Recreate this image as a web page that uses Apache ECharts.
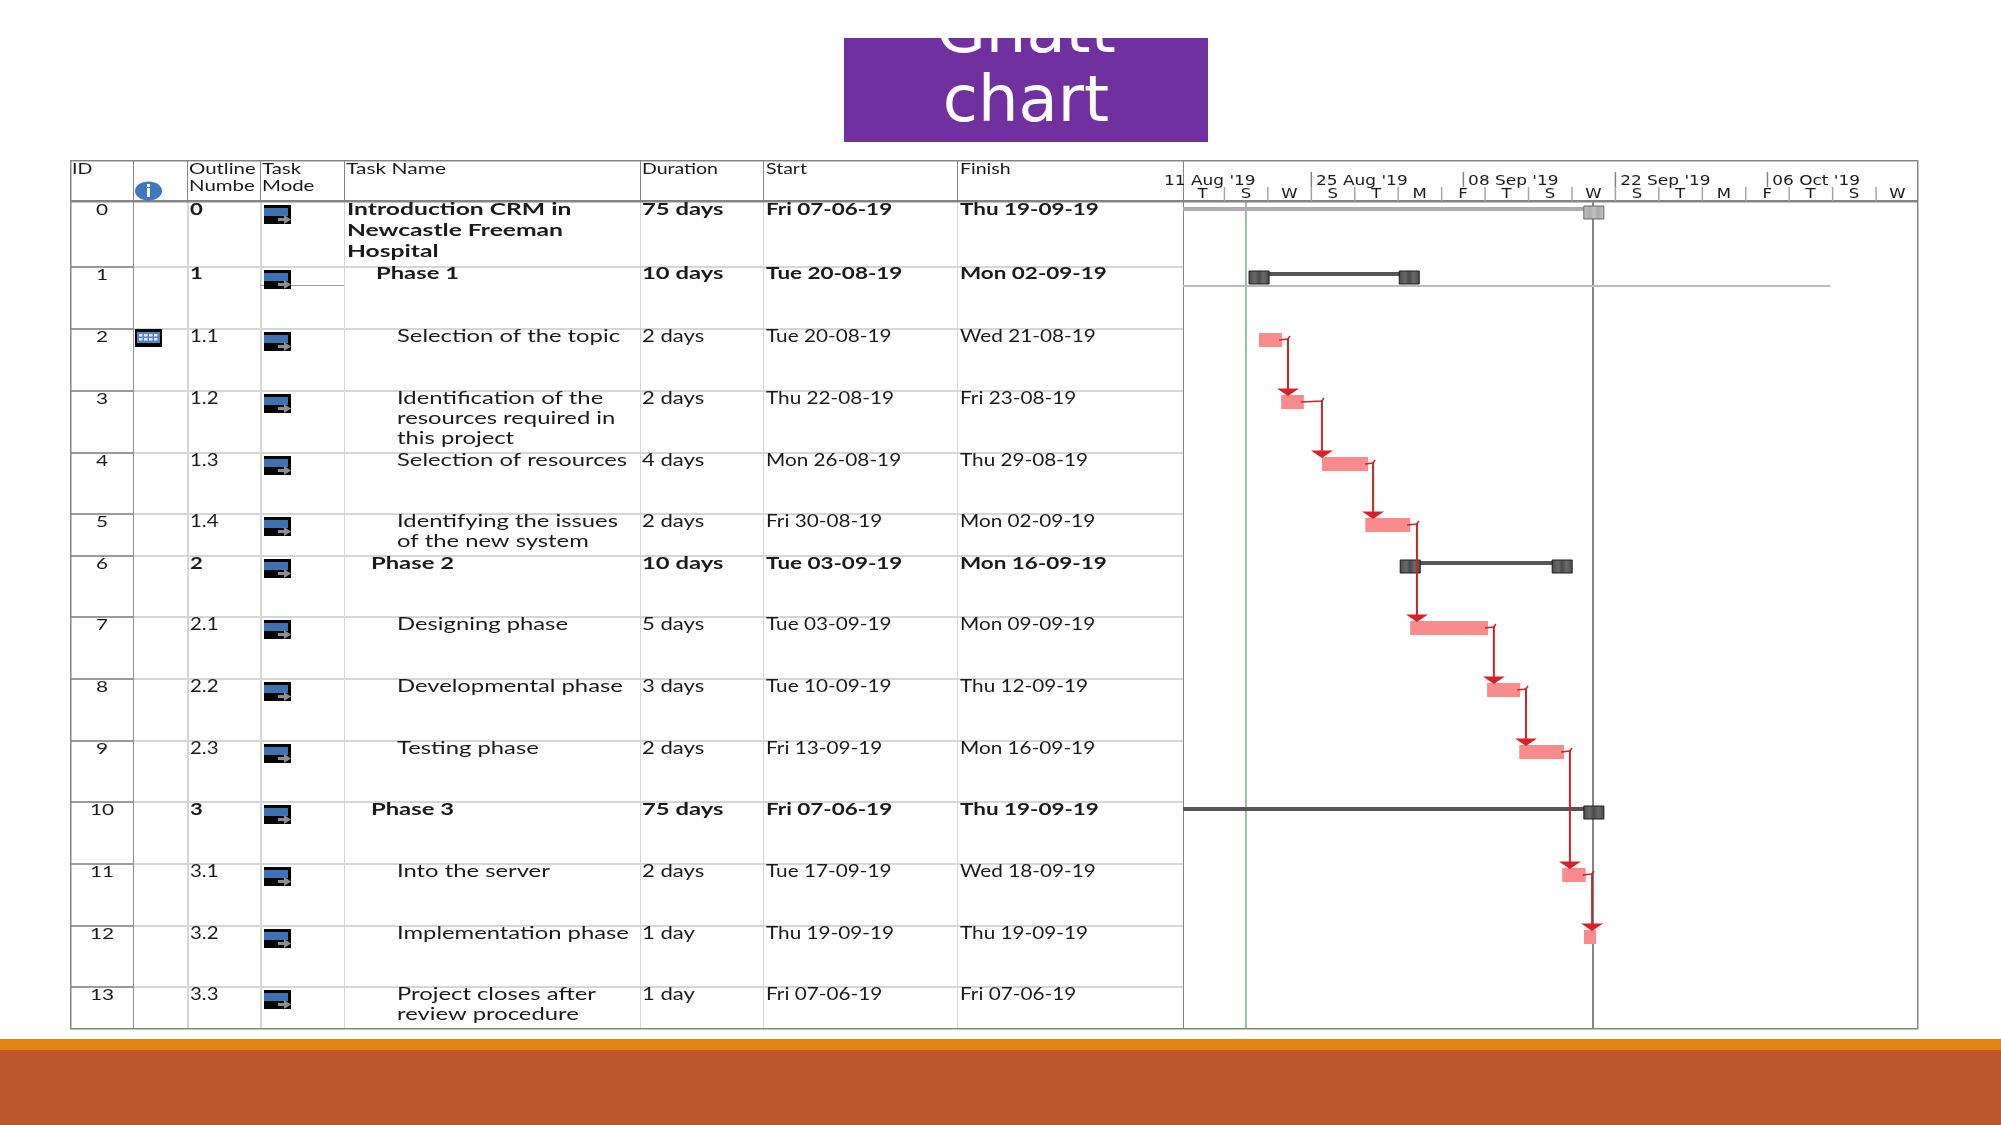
<!DOCTYPE html>
<html>
<head>
<meta charset="utf-8">
<title>Gnatt chart</title>
<script src="https://cdn.jsdelivr.net/npm/echarts@6/dist/echarts.min.js"></script>
<style>
  html, body { margin: 0; padding: 0; background: #fff; }
  #chart { width: 2001px; height: 1125px; }
</style>
</head>
<body>
<div id="chart"></div>
<script>
// table columns
const headers = ['ID', 'Outline\nNumbe', 'Task\nMode', 'Task Name', 'Duration', 'Start', 'Finish']
const ids = ['0', '1', '2', '3', '4', '5', '6', '7', '8', '9', '10', '11', '12', '13']
const outline = ['0', '1', '1.1', '1.2', '1.3', '1.4', '2', '2.1', '2.2', '2.3', '3', '3.1', '3.2', '3.3']
const taskNames = [
  'Introduction CRM in\nNewcastle Freeman\nHospital', 'Phase 1', 'Selection of the topic',
  'Identification of the\nresources required in\nthis project', 'Selection of resources',
  'Identifying the issues\nof the new system', 'Phase 2', 'Designing phase', 'Developmental phase',
  'Testing phase', 'Phase 3', 'Into the server', 'Implementation phase',
  'Project closes after\nreview procedure'
]
const durations = ['75 days', '10 days', '2 days', '2 days', '4 days', '2 days', '10 days', '5 days', '3 days', '2 days', '75 days', '2 days', '1 day', '1 day']
const startDates = ['Fri 07-06-19', 'Tue 20-08-19', 'Tue 20-08-19', 'Thu 22-08-19', 'Mon 26-08-19', 'Fri 30-08-19', 'Tue 03-09-19', 'Tue 03-09-19', 'Tue 10-09-19', 'Fri 13-09-19', 'Fri 07-06-19', 'Tue 17-09-19', 'Thu 19-09-19', 'Fri 07-06-19']
const finishDates = ['Thu 19-09-19', 'Mon 02-09-19', 'Wed 21-08-19', 'Fri 23-08-19', 'Thu 29-08-19', 'Mon 02-09-19', 'Mon 16-09-19', 'Mon 09-09-19', 'Thu 12-09-19', 'Mon 16-09-19', 'Thu 19-09-19', 'Wed 18-09-19', 'Thu 19-09-19', 'Fri 07-06-19']

// gantt bars, times
const taskRows = [2, 3, 4, 5, 7, 8, 9, 11, 12, 13]
const taskStart = ['2019-08-20 05:00', '2019-08-22 06:00', '2019-08-26 00:00', '2019-08-30 00:00', '2019-09-03 03:00', '2019-09-10 05:00', '2019-09-13 04:00', '2019-09-17 03:00', '2019-09-19 03:00', '2019-06-07 08:00']
const taskEnd = ['2019-08-22 08:00', '2019-08-24 08:00', '2019-08-30 06:00', '2019-09-03 03:00', '2019-09-10 07:00', '2019-09-13 06:00', '2019-09-17 07:00', '2019-09-19 07:00', '2019-09-20 06:00', '2019-06-07 17:00']
const summaryRows = [0, 1, 6, 10]
const summaryStart = ['2019-06-07 08:00', '2019-08-19 07:00', '2019-09-02 05:00', '2019-06-07 08:00']
const summaryEnd = ['2019-09-20 23:00', '2019-09-03 23:00', '2019-09-18 01:00', '2019-09-20 23:00']

// dependency links
const linkFrom = [2, 3, 4, 5, 7, 8, 9, 11]
const linkTo = [3, 4, 5, 7, 8, 9, 11, 12]
const linkTurn = ['2019-08-22 21:00', '2019-08-26 00:00', '2019-08-30 17:00', '2019-09-03 18:00', '2019-09-10 20:00', '2019-09-13 19:00', '2019-09-17 20:00', '2019-09-19 21:00']

// timescale
const weekTicks = ['2019-08-11', '2019-08-25', '2019-09-08', '2019-09-22', '2019-10-06']
const weekLabels = ["11 Aug '19", "25 Aug '19", "08 Sep '19", "22 Sep '19", "06 Oct '19"]
const dayTicks = ['2019-08-13', '2019-08-17', '2019-08-21', '2019-08-25', '2019-08-29', '2019-09-02', '2019-09-06', '2019-09-10', '2019-09-14', '2019-09-18', '2019-09-22', '2019-09-26', '2019-09-30', '2019-10-04', '2019-10-08', '2019-10-12', '2019-10-16']
const dayLabels = ['T', 'S', 'W', 'S', 'T', 'M', 'F', 'T', 'S', 'W', 'S', 'T', 'M', 'F', 'T', 'S', 'W']
const axisStart = '2019-08-13 05:00'
const axisEnd = '2019-10-19 19:00'
const statusDate = '2019-08-19 00:00'
const currentDate = '2019-09-19 23:00'
const baselineEnd = '2019-10-11 19:00'

// layout of the table, in pixels
const rowHeights = [65, 62, 62, 62, 61, 42, 61, 62, 62, 61, 62, 62, 61, 42]
const nameIndent = [347, 376, 397, 397, 397, 397, 371, 397, 397, 397, 371, 397, 397, 397]
const boldRows = [0, 1, 6, 10]
const columnLines = [133, 187, 260, 344, 640, 763, 957]
const headerX = [72, 189, 262, 346, 642, 766, 960]
const headerScale = [1.3, 1.36, 1.36, 1.4, 1.3, 1.3, 1.3]

const tableTop = 160
const headTop = 201
const tableBottom = 1029
const tableLeft = 70
const ganttLeft = 1183
const ganttRight = 1917

const rowTop = []
rowHeights.reduce((y, h, i) => { rowTop[i] = y; return y + h }, 0)

const GRAY = '#858585'
const LIGHT = '#d6d6d6'

const chart = echarts.init(document.getElementById('chart'), null, { renderer: 'canvas' })

const rect = (x, y, w, h, fill, z) => ({ type: 'rect', z: z || 1, silent: true, shape: { x, y, width: w, height: h }, style: { fill } })
const label = (text, x, y, size, scale, extra) => ({
  type: 'text', z: 5, silent: true, x, y, scaleX: scale,
  style: Object.assign({ text, fill: '#1a1a1a', fontFamily: 'Lato', fontSize: size, lineHeight: 20, textAlign: 'left', textVerticalAlign: 'top' }, extra)
})

const modeIcon = (x, y) => [
  rect(x, y, 27, 19, '#050505', 3),
  rect(x, y + 3, 24, 8, '#3f72b4', 3),
  rect(x + 14, y + 13, 7, 3, '#8f8f8f', 4),
  { type: 'polygon', z: 4, silent: true, shape: { points: [[x + 20, y + 10], [x + 27, y + 14.5], [x + 20, y + 19]] }, style: { fill: '#8f8f8f' } }
]

const buildGraphic = () => {
  const els = []
  // slide furniture
  els.push(rect(844, 38, 364, 104, '#7030a0', 1))
  els.push({
    type: 'text', z: 2, silent: true, x: 1026, y: 136,
    style: { text: 'chart', fill: '#fff', fontFamily: 'DejaVu Sans', fontSize: 64, textAlign: 'center', textVerticalAlign: 'bottom' }
  })
  els.push({
    type: 'text', z: 2, silent: true, x: 1026, y: 67,
    style: { text: 'Gnatt', fill: '#fff', fontFamily: 'DejaVu Sans', fontSize: 64, textAlign: 'center', textVerticalAlign: 'bottom' }
  })
  els.push(rect(0, 1039, 2001, 11, '#e48312', 1))
  els.push(rect(0, 1050, 2001, 75, '#bd582c', 1))

  // row and column rules
  rowTop.forEach((t, i) => {
    if (i === 0) return
    const y = headTop + t
    els.push(rect(tableLeft, y, 63, 2, '#9a9a9a', 1))
    els.push(rect(133, y, ganttLeft - 133, 2, LIGHT, 1))
  })
  columnLines.forEach((x, i) => {
    const thick = i === 1 || i === 2
    els.push(rect(x, headTop, thick ? 2 : 1, tableBottom - headTop, i === 0 ? '#8f8f8f' : LIGHT, 2))
    els.push(rect(x, tableTop, 1, headTop - tableTop, GRAY, 2))
  })
  els.push(rect(260, 285, 84, 1, '#9a9a9a', 2))
  els.push(rect(ganttLeft, tableTop, 1, tableBottom - tableTop, GRAY, 2))
  // outer frame
  els.push(rect(tableLeft, tableTop, ganttRight + 1 - tableLeft, 1.5, GRAY, 3))
  els.push(rect(tableLeft, headTop - 1, ganttRight + 1 - tableLeft, 2.5, GRAY, 3))
  els.push(rect(tableLeft, tableBottom - 1, ganttRight + 1 - tableLeft, 1.5, GRAY, 3))
  els.push(rect(tableLeft, tableTop, 1.5, tableBottom - tableTop, GRAY, 3))
  els.push(rect(ganttRight, tableTop, 1.5, tableBottom - tableTop, GRAY, 3))

  // header
  headers.forEach((h, i) => {
    els.push(label(h, headerX[i], 161, 15, headerScale[i], { lineHeight: 17 }))
  })
  els.push({ type: 'ellipse', z: 3, silent: true, shape: { cx: 148.5, cy: 191, rx: 13.5, ry: 9.5 }, style: { fill: '#3e78bd' } })
  els.push(rect(147, 184, 3, 3, '#fff', 4))
  els.push(rect(147, 188, 3, 9, '#fff', 4))

  // table body
  ids.forEach((id, i) => {
    const y = headTop + rowTop[i]
    const bold = boldRows.includes(i)
    const extra = { fontWeight: bold ? 'bold' : 'normal', lineHeight: i === 0 ? 21 : 20 }
    const ty = i < 2 ? y - 2 : y - 1
    els.push(label(id, 102, y - 1, 16, 1.3, { textAlign: 'center' }))
    els.push(label(outline[i], 190, ty, 17, bold ? 1.3 : 1.2, extra))
    els.push(label(taskNames[i], nameIndent[i], ty, 17, i === 0 ? 1.45 : 1.4, extra))
    els.push(label(durations[i], 642, ty, 17, bold ? 1.4 : 1.3, extra))
    els.push(label(startDates[i], 766, ty, 17, bold ? 1.32 : 1.22, extra))
    els.push(label(finishDates[i], 960, ty, 17, bold ? 1.32 : 1.22, extra))
    modeIcon(264, y + 4).forEach(e => els.push(e))
  })

  // calendar icon on task 2
  const cal = headTop + rowTop[2] + 1
  els.push(rect(135, cal, 27, 18, '#050505', 3))
  els.push(rect(137, cal + 3, 23, 11, '#5a80c4', 4))
  for (let r = 0; r < 2; r++) {
    for (let c = 0; c < 4; c++) {
      els.push(rect(139 + c * 5, cal + 5 + r * 4, 3.5, 2.5, '#dfe8f5', 5))
    }
  }
  return els
}

// Custom series pieces
const renderTask = (params, api) => {
  const row = api.value(0)
  const top = rowTop[row] + 5
  const a = api.coord([api.value(1), top])
  const b = api.coord([api.value(2), top + 14])
  return { type: 'rect', shape: { x: a[0], y: a[1], width: b[0] - a[0], height: b[1] - a[1] }, style: { fill: '#f98b8d' } }
}

const capFill = (edge, mid) => new echarts.graphic.LinearGradient(0, 0, 1, 0, [
  { offset: 0, color: edge }, { offset: 0.3, color: mid }, { offset: 0.5, color: edge },
  { offset: 0.7, color: mid }, { offset: 1, color: edge }
])

const renderSummary = (params, api) => {
  const row = api.value(0)
  const top = rowTop[row] + 5
  const a = api.coord([api.value(1), top])
  const b = api.coord([api.value(2), top + 13])
  const root = row === 0
  const capW = 20
  const cap = x => ({
    type: 'rect', shape: { x, y: a[1], width: capW, height: 13 },
    style: { fill: root ? capFill('#c2c2c2', '#aaaaaa') : capFill('#4a4a4a', '#6a6a6a'), stroke: root ? '#666' : '#1c1c1c', lineWidth: 1 }
  })
  const children = [
    { type: 'rect', shape: { x: a[0] + capW / 2, y: a[1] + 1, width: b[0] - a[0] - capW, height: 4 }, style: { fill: root ? '#adadad' : '#565656' } },
    cap(b[0] - capW)
  ]
  if (a[0] > ganttLeft) children.push(cap(a[0]))
  return { type: 'group', children }
}

const renderLink = (params, api) => {
  const from = api.value(0)
  const to = api.value(1)
  const turn = api.coord([api.value(3), rowTop[from] + 11])
  const end = api.coord([api.value(2), rowTop[from] + 11])
  const tip = api.coord([api.value(3), rowTop[to] + 6])
  const x = turn[0]
  const y = turn[1]
  const color = '#c9242b'
  return {
    type: 'group',
    children: [
      { type: 'polyline', shape: { points: [[end[0] - 3, y + 1], [x, y], [x + 2, y - 3]] }, style: { fill: null, stroke: color, lineWidth: 1.5 } },
      { type: 'line', shape: { x1: x, y1: y - 1, x2: x, y2: tip[1] - 4 }, style: { stroke: color, lineWidth: 2 } },
      { type: 'polygon', shape: { points: [[x - 11, tip[1] - 7.5], [x + 11, tip[1] - 7.5], [x, tip[1]]] }, style: { fill: '#d8202a' } }
    ]
  }
}

const renderDateLine = (params, api) => {
  const a = api.coord([api.value(0), 0])
  const b = api.coord([api.value(0), rowTop[13] + rowHeights[13]])
  return {
    type: 'rect',
    shape: { x: a[0] - 1, y: a[1], width: 2, height: b[1] - a[1] },
    style: { fill: params.dataIndex === 0 ? '#97bd92' : '#868686' }
  }
}

const renderWeekTick = (params, api) => {
  const p = api.coord([api.value(0), 0])
  return {
    type: 'group',
    children: [
      { type: 'rect', ignore: p[0] < ganttLeft, shape: { x: p[0] - 0.5, y: p[1] - 29, width: 1.5, height: 15 }, style: { fill: GRAY } },
      { type: 'text', x: p[0] + 5, y: p[1] - 20, scaleX: 1.21, style: { text: weekLabels[params.dataIndex], fill: '#1a1a1a', fontFamily: 'DejaVu Sans', fontSize: 14, textVerticalAlign: 'middle' } }
    ]
  }
}

const renderDayTick = (params, api) => {
  const p = api.coord([api.value(0), 0])
  const q = api.coord([api.value(1), 0])
  return {
    type: 'group',
    children: [
      { type: 'rect', ignore: params.dataIndex === 0, shape: { x: p[0] - 0.5, y: p[1] - 14, width: 1.5, height: 14 }, style: { fill: '#a5a5a5' } },
      { type: 'text', x: q[0], y: p[1] - 7, scaleX: 1.18, style: { text: dayLabels[params.dataIndex], fill: '#1a1a1a', fontFamily: 'DejaVu Sans', fontSize: 14, textAlign: 'center', textVerticalAlign: 'middle' } }
    ]
  }
}

const endOf = row => taskEnd[taskRows.indexOf(row)]
const midDay = d => new Date(+new Date(d + 'T00:00:00') + 2 * 86400000)

const option = {
  animation: false,
  backgroundColor: '#fff',
  graphic: { elements: buildGraphic() },
  grid: { left: ganttLeft, top: headTop, width: ganttRight - ganttLeft, height: tableBottom - headTop },
  xAxis: { type: 'time', min: axisStart, max: axisEnd, show: false },
  yAxis: { type: 'value', inverse: true, min: 0, max: tableBottom - headTop, show: false },
  series: [
    {
      type: 'custom', name: 'date lines', clip: true, z: 2, renderItem: renderDateLine,
      dimensions: [{ name: 'date', type: 'time' }], encode: { x: 0 },
      data: [[statusDate], [currentDate]]
    },
    {
      type: 'custom', name: 'summary', clip: true, z: 3, renderItem: renderSummary,
      dimensions: ['row', { name: 'start', type: 'time' }, { name: 'end', type: 'time' }], encode: { x: [1, 2] },
      data: summaryRows.map((r, i) => [r, summaryStart[i], summaryEnd[i]])
    },
    {
      type: 'custom', name: 'tasks', clip: true, z: 4, renderItem: renderTask,
      dimensions: ['row', { name: 'start', type: 'time' }, { name: 'end', type: 'time' }], encode: { x: [1, 2] },
      data: taskRows.map((r, i) => [r, taskStart[i], taskEnd[i]])
    },
    {
      type: 'custom', name: 'links', clip: true, z: 5, renderItem: renderLink,
      dimensions: ['from', 'to', { name: 'end', type: 'time' }, { name: 'turn', type: 'time' }], encode: { x: [2, 3] },
      data: linkFrom.map((r, i) => [r, linkTo[i], endOf(r), linkTurn[i]])
    },
    {
      type: 'custom', name: 'baseline', clip: true, z: 2,
      renderItem: (params, api) => {
        const a = api.coord([api.value(0), rowTop[1] + 19])
        const b = api.coord([api.value(1), rowTop[1] + 19])
        return { type: 'rect', shape: { x: a[0], y: a[1], width: b[0] - a[0], height: 2 }, style: { fill: '#bbbbbb' } }
      },
      dimensions: [{ name: 'from', type: 'time' }, { name: 'to', type: 'time' }], encode: { x: [0, 1] },
      data: [[axisStart, baselineEnd]]
    },
    {
      type: 'custom', name: 'week ticks', clip: false, z: 6, renderItem: renderWeekTick,
      dimensions: [{ name: 'date', type: 'time' }], encode: { x: 0 },
      data: weekTicks.map(d => [d])
    },
    {
      type: 'custom', name: 'day ticks', clip: false, z: 6, renderItem: renderDayTick,
      dimensions: [{ name: 'date', type: 'time' }, { name: 'mid', type: 'time' }], encode: { x: 0 },
      data: dayTicks.map(d => [d, midDay(d)])
    }
  ]
}

chart.setOption(option)
window.addEventListener('resize', () => chart.resize())
</script>
</body>
</html>
